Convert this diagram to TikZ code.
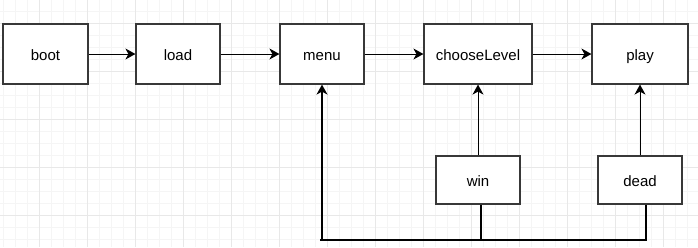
\documentclass[tikz,border=0pt]{standalone}
\usepackage{fontspec}
\setmainfont{Liberation Sans}
\usetikzlibrary{arrows.meta}

\begin{document}
\begin{tikzpicture}[x = 1pt, y = -1pt, state/.style = {draw = black!78, line width = 1.2pt, fill = white, minimum height = 60pt, inner sep = 0pt, text height = 15pt, text depth = 3pt, font = \fontsize{15}{17}\selectfont}, link/.style = {line width = 1pt}, >={Stealth[length = 10pt, width = 11pt, inset = 3pt]}]
					\useasboundingbox (0,0) rectangle (698,247);
					\fill[white] (0,0) rectangle (698,247);
					\foreach \x in {3.3,15.3,...,698} \draw[black!4, line width = 0.8pt] (\x,0) -- (\x,247);
					\foreach \y in {-0.7,11.3,...,247} \draw[black!4, line width = 0.8pt] (0,\y) -- (698,\y);
					\foreach \x in {-8.7,39.3,...,698} \draw[black!9, line width = 0.8pt] (\x,0) -- (\x,247);
					\foreach \y in {23.3,71.3,...,247} \draw[black!9, line width = 0.8pt] (0,\y) -- (698,\y);
					\node[state, minimum width = 85pt] (boot) at (45.5,54) {boot};
					\node[state, minimum width = 84pt] (load) at (178,54) {load};
					\node[state, minimum width = 84pt] (menu) at (322,54) {menu};
					\node[state, minimum width = 108pt] (chooseLevel) at (478,54) {chooseLevel};
					\node[state, minimum width = 96pt] (play) at (640,54) {play};
					\node[state, minimum width = 84pt, minimum height = 48pt] (win) at (478,180) {win};
					\node[state, minimum width = 84pt, minimum height = 48pt] (dead) at (640,180) {dead};
					\coordinate (winFoot) at (481,240);
					\coordinate (deadFoot) at (646,240);
					\coordinate (menuFoot) at (322,240);
					\draw[link, ->] (boot) -- (load);
					\draw[link, ->] (load) -- (menu);
					\draw[link, ->] (menu) -- (chooseLevel);
					\draw[link, ->] (chooseLevel) -- (play);
					\draw[link, ->] (win) -- (chooseLevel);
					\draw[link, ->] (dead) -- (play);
					\draw[line width = 2.2pt] (win.south -| winFoot) -- (winFoot);
					\draw[line width = 1.7pt] (dead.south -| deadFoot) -- (deadFoot) -- ([xshift = -2pt]menuFoot);
					\draw[line width = 1.5pt, ->] (menuFoot) -- (menu);
				\end{tikzpicture}
\end{document}
